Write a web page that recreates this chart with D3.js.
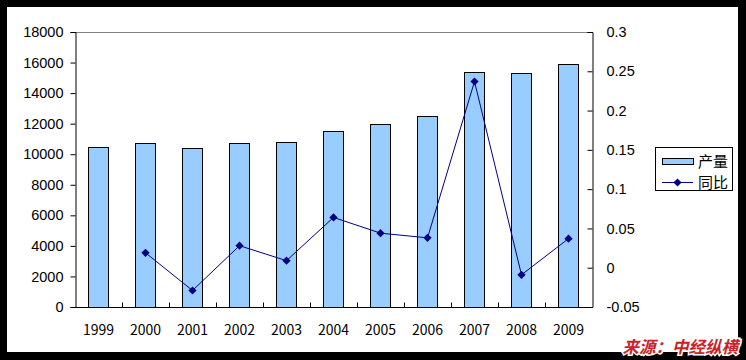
<!DOCTYPE html>
<html lang="zh">
<head>
  <meta charset="UTF-8" />
  <title>产量与同比</title>
  <style>
    body { margin: 0; background: #000; }
    svg { display: block; }
    .tick text { font-family: 'Liberation Sans', Arial, sans-serif; font-size: 14.5px; fill: #000; }
    .xlab { font-family: 'Noto Sans CJK SC', sans-serif; font-size: 14px; fill: #000; }
    .legend text { font-family: 'Noto Sans CJK SC', sans-serif; font-size: 15px; fill: #000; }
  </style>
</head>
<body>
  <svg id="chart"></svg>

  <script src="https://d3js.org/d3.v7.min.js"></script>
  <script>
    const years = ["1999", "2000", "2001", "2002", "2003", "2004", "2005", "2006", "2007", "2008", "2009"];
    const output = [10450, 10710, 10390, 10710, 10780, 11520, 11980, 12500, 15370, 15300, 15880];
    const yoy = [null, 0.019, -0.029, 0.028, 0.009, 0.064, 0.044, 0.038, 0.237, -0.009, 0.037];
    const leftTicks = [0, 2000, 4000, 6000, 8000, 10000, 12000, 14000, 16000, 18000];
    const rightTicks = [-0.05, 0, 0.05, 0.1, 0.15, 0.2, 0.25, 0.3];

    const W = 746, H = 360;
    const plot = { left: 75, right: 592, top: 32, bottom: 307 };

    const svg = d3.select("#chart").attr("width", W).attr("height", H);

    // black frame, white card
    svg.append("rect").attr("width", W).attr("height", H).attr("fill", "#000");
    svg.append("rect").attr("x", 7).attr("y", 7).attr("width", 731).attr("height", 345).attr("fill", "#fff");

    const x = d3.scaleBand().domain(years).range([plot.left, plot.right]);
    const yL = d3.scaleLinear().domain([0, 18000]).range([plot.bottom, plot.top]);
    const yR = d3.scaleLinear().domain([-0.05, 0.3]).range([plot.bottom, plot.top]);

    // top border of plot area
    svg.append("line")
      .attr("x1", plot.left).attr("x2", plot.right)
      .attr("y1", plot.top + 0.5).attr("y2", plot.top + 0.5)
      .attr("stroke", "#808080");

    // bars
    const bw = x.bandwidth() * 0.43;
    svg.append("g").selectAll("rect")
      .data(output)
      .join("rect")
      .attr("x", (d, i) => Math.round(x(years[i]) + x.bandwidth() / 2 - bw / 2) + 0.5)
      .attr("y", d => Math.round(yL(d)) + 0.5)
      .attr("width", Math.round(bw))
      .attr("height", d => Math.round(yL(0)) - Math.round(yL(d)))
      .attr("fill", "#99ccff")
      .attr("stroke", "#000")
      .attr("stroke-width", 1);

    // left axis
    const gl = svg.append("g")
      .attr("transform", `translate(${plot.left + 0.5},0)`)
      .call(d3.axisLeft(yL).tickValues(leftTicks).tickSize(5).tickPadding(7).tickFormat(d3.format("d")));
    gl.selectAll(".domain, line").attr("stroke", "#000");

    // right axis (ticks pointing inward)
    const gr = svg.append("g")
      .attr("transform", `translate(${plot.right + 0.5},0)`)
      .call(d3.axisRight(yR).tickValues(rightTicks).tickSize(-5).tickPadding(14)
        .tickFormat(d => String(+d.toFixed(2))));
    gr.selectAll(".domain, line").attr("stroke", "#000");

    // bottom axis: category boundary ticks pointing up
    const gb = svg.append("g").attr("transform", `translate(0,${plot.bottom + 0.5})`);
    gb.append("line").attr("x1", plot.left).attr("x2", plot.right + 1).attr("stroke", "#000");
    gb.selectAll("line.t")
      .data(years.slice(1))
      .join("line")
      .attr("class", "t")
      .attr("x1", d => Math.round(x(d)) + 0.5).attr("x2", d => Math.round(x(d)) + 0.5)
      .attr("y1", 0).attr("y2", -5)
      .attr("stroke", "#000");
    svg.append("g").selectAll("text")
      .data(years)
      .join("text")
      .attr("class", "xlab")
      .attr("x", d => x(d) + x.bandwidth() / 2)
      .attr("y", 335)
      .attr("text-anchor", "middle")
      .text(d => d);

    // yoy line
    const pts = yoy.map((v, i) => ({ year: years[i], v })).filter(d => d.v !== null);
    const line = d3.line()
      .x(d => x(d.year) + x.bandwidth() / 2)
      .y(d => yR(d.v));
    svg.append("path")
      .datum(pts)
      .attr("d", line)
      .attr("fill", "none")
      .attr("stroke", "#000080")
      .attr("stroke-width", 1);
    // square turned 45 degrees, like the office-style diamond marker
    const diamond = d3.symbol().type(d3.symbolSquare).size(34);
    svg.append("g").selectAll("path")
      .data(pts)
      .join("path")
      .attr("transform", d => `translate(${x(d.year) + x.bandwidth() / 2},${yR(d.v)}) rotate(45)`)
      .attr("d", diamond)
      .attr("fill", "#000080");

    // legend
    const lg = svg.append("g").attr("class", "legend");
    lg.append("rect").attr("x", 655.5).attr("y", 147.5).attr("width", 77).attr("height", 43)
      .attr("fill", "#fff").attr("stroke", "#000");
    lg.append("rect").attr("x", 662.5).attr("y", 158.5).attr("width", 31).attr("height", 6)
      .attr("fill", "#99ccff").attr("stroke", "#000");
    lg.append("text").attr("x", 698).attr("y", 167).text("产量");
    lg.append("line").attr("x1", 662).attr("x2", 693).attr("y1", 182.5).attr("y2", 182.5)
      .attr("stroke", "#000080");
    lg.append("path").attr("transform", "translate(677.5,182.5) rotate(45)").attr("d", diamond).attr("fill", "#000080");
    lg.append("text").attr("x", 698).attr("y", 188).text("同比");

    // source note
    svg.append("text")
      .attr("x", 738).attr("y", 353)
      .attr("text-anchor", "end")
      .attr("font-family", "'Noto Sans CJK SC', sans-serif")
      .attr("font-size", 16.5)
      .attr("font-weight", "bold")
      .attr("font-style", "italic")
      .attr("fill", "#cc2229")
      .attr("stroke", "#fff")
      .attr("stroke-width", 3)
      .attr("paint-order", "stroke")
      .text("来源：中经纵横");
  </script>
</body>
</html>
